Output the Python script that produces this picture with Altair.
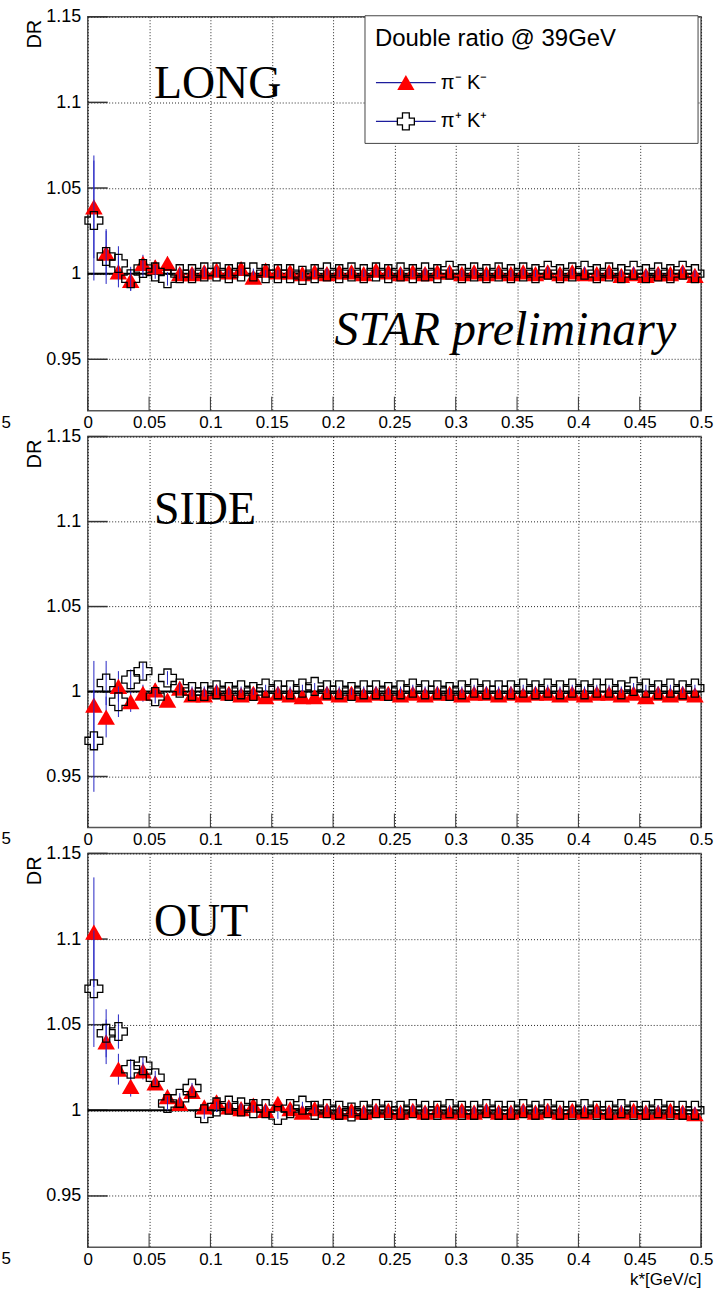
import altair as alt
import pandas as pd

# ---------------- data ----------------
kstar = [0.005, 0.015, 0.025, 0.035, 0.045, 0.055, 0.065, 0.075, 0.085, 0.095,
         0.105, 0.115, 0.125, 0.135, 0.145, 0.155, 0.165, 0.175, 0.185, 0.195,
         0.205, 0.215, 0.225, 0.235, 0.245, 0.255, 0.265, 0.275, 0.285, 0.295,
         0.305, 0.315, 0.325, 0.335, 0.345, 0.355, 0.365, 0.375, 0.385, 0.395,
         0.405, 0.415, 0.425, 0.435, 0.445, 0.455, 0.465, 0.475, 0.485, 0.495]

long_pim = [1.039, 1.012, 1.001, 0.996, 1.006, 1.004, 1.006, 1.000, 1.000, 1.001,
            1.002, 1.001, 1.003, 0.998, 1.002, 1.001, 1.001, 1.000, 1.001, 1.000,
            1.001, 1.001, 1.000, 1.002, 1.001, 1.000, 1.001, 1.000, 1.001, 1.001,
            1.000, 1.001, 1.000, 1.001, 1.000, 1.001, 1.000, 1.001, 1.000, 1.001,
            1.000, 1.000, 1.001, 0.999, 1.000, 0.999, 1.000, 1.000, 1.001, 0.999]
long_pim_err = [0.030, 0.013, 0.009, 0.006, 0.005, 0.004, 0.004, 0.003, 0.003, 0.003,
                0.003, 0.002, 0.002, 0.002, 0.002, 0.002, 0.002, 0.002, 0.002, 0.002,
                0.002, 0.002, 0.002, 0.002, 0.002, 0.002, 0.002, 0.002, 0.002, 0.002,
                0.002, 0.002, 0.002, 0.002, 0.002, 0.002, 0.002, 0.002, 0.002, 0.002,
                0.002, 0.002, 0.002, 0.002, 0.002, 0.002, 0.002, 0.002, 0.002, 0.002]
long_pip = [1.031, 1.010, 1.006, 0.997, 1.003, 1.001, 0.997, 1.000, 1.000, 1.001,
            1.001, 1.000, 1.001, 1.001, 1.000, 1.000, 1.000, 0.999, 1.000, 1.001,
            1.000, 1.001, 1.000, 1.001, 1.000, 1.001, 1.000, 1.001, 1.000, 1.002,
            1.000, 1.001, 1.000, 1.001, 1.000, 1.001, 1.000, 1.002, 1.000, 1.001,
            1.002, 1.000, 1.001, 1.000, 1.002, 1.000, 1.001, 1.000, 1.002, 1.000]
long_pip_err = [0.035, 0.016, 0.010, 0.007, 0.005, 0.004, 0.004, 0.003, 0.003, 0.003,
                0.003, 0.002, 0.002, 0.002, 0.002, 0.002, 0.002, 0.002, 0.002, 0.002,
                0.002, 0.002, 0.002, 0.002, 0.002, 0.002, 0.002, 0.002, 0.002, 0.002,
                0.002, 0.002, 0.002, 0.002, 0.002, 0.002, 0.002, 0.002, 0.002, 0.002,
                0.002, 0.002, 0.002, 0.002, 0.002, 0.002, 0.002, 0.002, 0.002, 0.002]

side_pim = [0.992, 0.985, 1.003, 0.994, 0.999, 1.001, 0.995, 1.002, 0.998, 0.998,
            1.000, 0.999, 0.998, 0.999, 0.997, 0.999, 0.998, 0.997, 0.997, 0.999,
            0.998, 0.999, 0.998, 0.999, 0.999, 0.998, 0.999, 0.998, 0.999, 0.999,
            0.998, 0.999, 0.999, 0.998, 0.999, 0.998, 0.999, 0.999, 0.998, 0.999,
            0.998, 0.999, 0.999, 0.998, 0.999, 0.997, 0.999, 0.998, 0.999, 0.998]
side_pim_err = [0.026, 0.012, 0.009, 0.006, 0.005, 0.004, 0.004, 0.003, 0.003, 0.003,
                0.003, 0.002, 0.002, 0.002, 0.002, 0.002, 0.002, 0.002, 0.002, 0.002,
                0.002, 0.002, 0.002, 0.002, 0.002, 0.002, 0.002, 0.002, 0.002, 0.002,
                0.002, 0.002, 0.002, 0.002, 0.002, 0.002, 0.002, 0.002, 0.002, 0.002,
                0.002, 0.002, 0.002, 0.002, 0.002, 0.002, 0.002, 0.002, 0.002, 0.002]
side_pip = [0.971, 1.005, 0.994, 1.007, 1.012, 0.997, 1.008, 1.002, 1.000, 1.000,
            1.001, 1.000, 1.001, 1.000, 1.002, 1.001, 1.001, 1.002, 1.003, 1.001,
            1.001, 1.000, 1.001, 1.001, 1.000, 1.001, 1.002, 1.001, 1.001, 1.000,
            1.001, 1.002, 1.001, 1.001, 1.001, 1.002, 1.001, 1.002, 1.001, 1.002,
            1.001, 1.002, 1.002, 1.001, 1.003, 1.002, 1.001, 1.002, 1.001, 1.002]
side_pip_err = [0.030, 0.013, 0.009, 0.006, 0.005, 0.004, 0.004, 0.003, 0.003, 0.003,
                0.003, 0.002, 0.002, 0.002, 0.002, 0.002, 0.002, 0.002, 0.002, 0.002,
                0.002, 0.002, 0.002, 0.002, 0.002, 0.002, 0.002, 0.002, 0.002, 0.002,
                0.002, 0.002, 0.002, 0.002, 0.002, 0.002, 0.002, 0.002, 0.002, 0.002,
                0.002, 0.002, 0.002, 0.002, 0.002, 0.002, 0.002, 0.002, 0.002, 0.002]

out_pim = [1.104, 1.040, 1.024, 1.014, 1.023, 1.016, 1.008, 1.004, 1.011, 1.002,
           1.005, 1.002, 1.001, 1.003, 1.000, 1.004, 1.001, 0.999, 1.001, 1.000,
           0.999, 1.000, 0.999, 1.000, 1.000, 0.999, 1.000, 0.999, 1.000, 0.999,
           1.000, 0.999, 1.000, 0.999, 0.999, 1.000, 0.999, 1.000, 0.999, 1.000,
           0.999, 1.000, 0.999, 0.999, 1.000, 0.999, 0.999, 1.000, 0.999, 0.998]
out_pim_err = [0.032, 0.013, 0.009, 0.006, 0.005, 0.004, 0.004, 0.003, 0.003, 0.003,
               0.003, 0.002, 0.002, 0.002, 0.002, 0.002, 0.002, 0.002, 0.002, 0.002,
               0.002, 0.002, 0.002, 0.002, 0.002, 0.002, 0.002, 0.002, 0.002, 0.002,
               0.002, 0.002, 0.002, 0.002, 0.002, 0.002, 0.002, 0.002, 0.002, 0.002,
               0.002, 0.002, 0.002, 0.002, 0.002, 0.002, 0.002, 0.002, 0.002, 0.002]
out_pip = [1.071, 1.045, 1.046, 1.024, 1.026, 1.019, 1.004, 1.007, 1.013, 0.998,
           1.002, 1.003, 1.002, 1.001, 1.001, 0.997, 1.001, 1.003, 1.000, 1.001,
           1.000, 0.999, 1.000, 1.001, 1.000, 1.000, 1.001, 1.000, 1.000, 1.001,
           1.000, 1.000, 1.001, 1.000, 1.000, 1.001, 1.000, 1.001, 1.000, 1.000,
           1.001, 1.000, 1.000, 1.001, 1.000, 1.000, 1.001, 1.000, 1.000, 1.000]
out_pip_err = [0.034, 0.014, 0.010, 0.006, 0.005, 0.004, 0.004, 0.003, 0.003, 0.003,
               0.003, 0.002, 0.002, 0.002, 0.002, 0.002, 0.002, 0.002, 0.002, 0.002,
               0.002, 0.002, 0.002, 0.002, 0.002, 0.002, 0.002, 0.002, 0.002, 0.002,
               0.002, 0.002, 0.002, 0.002, 0.002, 0.002, 0.002, 0.002, 0.002, 0.002,
               0.002, 0.002, 0.002, 0.002, 0.002, 0.002, 0.002, 0.002, 0.002, 0.002]

x_ticks = [0, 0.05, 0.1, 0.15, 0.2, 0.25, 0.3, 0.35, 0.4, 0.45, 0.5]
y_ticks = [0.95, 1.0, 1.05, 1.1, 1.15]
x_domain = [0, 0.5]
y_domain = [0.92, 1.15]

panel_names = ["LONG", "SIDE", "OUT"]
panel_label_x = [0.054, 0.054, 0.054]
panel_label_y = [1.1023, 1.0988, 1.1015]
panel_heights = [395, 392, 395]

legend_title = "Double ratio @ 39GeV"
legend_labels = ["π⁻ K⁻", "π⁺ K⁺"]
preliminary_text = "STAR preliminary"
preliminary_pos = (0.4797, 0.9585)
x_title = "k*[GeV/c]"
y_title = "DR"
edge_label = "5"   # clipped tick label of a neighbouring pad, visible at the left edge

W = 615
SANS = "Liberation Sans"
SERIF = "Liberation Serif"
BLUE = "#2626c4"


def make_panel(idx, pim, pim_err, pip, pip_err, height, with_xtitle, with_legend):
    xs = alt.Scale(domain=x_domain, nice=False, zero=False)
    ys = alt.Scale(domain=y_domain, nice=False, zero=False)
    xax = alt.Axis(values=x_ticks, format="~g", grid=True, gridDash=[1, 2],
                   gridColor="#000", gridWidth=1, gridOpacity=0.85,
                   ticks=False, tickSize=0, domain=False,
                   labelFont=SANS, labelFontSize=17, labelColor="#000",
                   labelPadding=4, labelFlush=False, labelOverlap=False, labelBound=False,
                   title=x_title if with_xtitle else None,
                   titleFont=SANS, titleFontSize=17, titleFontWeight="normal", titleColor="#000",
                   titleX=W, titleY=32, titleAlign="right", titleBaseline="middle", titleAnchor="end")
    yax = alt.Axis(values=y_ticks, format="~g", grid=True, gridDash=[1, 2],
                   gridColor="#000", gridWidth=1, gridOpacity=0.85,
                   ticks=False, tickSize=0, domain=False,
                   labelFont=SANS, labelFontSize=18, labelColor="#000",
                   labelPadding=7, labelFlush=False, labelOverlap=False, labelBound=False,
                   title=y_title, titleFont=SANS, titleFontSize=20, titleFontWeight="normal",
                   titleColor="#000", titleAngle=270, titleX=-53, titleY=17,
                   titleAlign="center", titleBaseline="middle")

    def X(f):
        return alt.X(f, type="quantitative", scale=xs, axis=xax)

    def Y(f):
        return alt.Y(f, type="quantitative", scale=ys, axis=yax)

    df_m = pd.DataFrame({"k": kstar, "dr": pim,
                         "lo": [v - e for v, e in zip(pim, pim_err)],
                         "hi": [v + e for v, e in zip(pim, pim_err)]})
    df_p = pd.DataFrame({"k": kstar, "dr": pip,
                         "lo": [v - e for v, e in zip(pip, pip_err)],
                         "hi": [v + e for v, e in zip(pip, pip_err)]})

    xt = alt.Chart(pd.DataFrame({"v": x_ticks})).mark_rule(color="#333", strokeWidth=1).encode(
        x=X("v"), y=alt.value(height), y2=alt.value(height - 14))
    yt = alt.Chart(pd.DataFrame({"v": y_ticks})).mark_rule(color="#333", strokeWidth=1.5).encode(
        y=Y("v"), x=alt.value(0), x2=alt.value(20))
    one = alt.Chart(pd.DataFrame({"v": [1.0]})).mark_rule(color="#000", strokeWidth=2).encode(y=Y("v"))

    err_m = alt.Chart(df_m).mark_rule(color=BLUE, strokeWidth=1).encode(x=X("k"), y=Y("lo"), y2="hi:Q")
    err_p = alt.Chart(df_p).mark_rule(color=BLUE, strokeWidth=1).encode(x=X("k"), y=Y("lo"), y2="hi:Q")
    tri = alt.Chart(df_m).mark_point(shape="triangle-up", filled=True, color="#ff0000",
                                     size=310, opacity=1).encode(x=X("k"), y=Y("dr"))
    crs = alt.Chart(df_p).mark_point(shape="cross", filled=False, color="#000", strokeWidth=1.3,
                                     size=320, opacity=1).encode(x=X("k"), y=Y("dr"))

    lab = alt.Chart(pd.DataFrame({"x": [panel_label_x[idx]], "y": [panel_label_y[idx]],
                                  "t": [panel_names[idx]]})).mark_text(
        font=SERIF, fontSize=46, align="left", baseline="alphabetic", color="#000").encode(
        x=X("x"), y=Y("y"), text="t:N")

    one_row = pd.DataFrame({"a": [0]})
    edge = alt.Chart(one_row).mark_text(text=edge_label, font=SANS, fontSize=17, align="right",
                                        baseline="top", color="#000").encode(
        x=alt.value(-77), y=alt.value(height + 4))

    layers = [yt, xt, one, err_m, tri, err_p, crs, lab, edge]

    if with_legend:
        box = alt.Chart(one_row).mark_rect(fill="white", stroke="#444", strokeWidth=1).encode(
            x=alt.value(278), x2=alt.value(612), y=alt.value(-1), y2=alt.value(127))
        ttl = alt.Chart(one_row).mark_text(text=legend_title, font=SANS, fontSize=24,
                                           align="left", baseline="alphabetic", color="#000").encode(
            x=alt.value(288), y=alt.value(29))
        l1 = alt.Chart(one_row).mark_rule(color="#1c1c9c", strokeWidth=1.2).encode(
            x=alt.value(289), x2=alt.value(349), y=alt.value(66))
        l2 = alt.Chart(one_row).mark_rule(color="#1c1c9c", strokeWidth=1.2).encode(
            x=alt.value(289), x2=alt.value(349), y=alt.value(105))
        m1 = alt.Chart(one_row).mark_point(shape="triangle-up", filled=True, color="#ff0000",
                                           size=300, opacity=1).encode(x=alt.value(319), y=alt.value(66))
        m2 = alt.Chart(one_row).mark_point(shape="cross", filled=True, fill="white", stroke="#000",
                                           strokeWidth=1.3, size=290, opacity=1).encode(
            x=alt.value(319), y=alt.value(105))
        t1 = alt.Chart(one_row).mark_text(text=legend_labels[0], font=SANS, fontSize=20,
                                          align="left", baseline="middle", color="#000").encode(
            x=alt.value(354), y=alt.value(66))
        t2 = alt.Chart(one_row).mark_text(text=legend_labels[1], font=SANS, fontSize=20,
                                          align="left", baseline="middle", color="#000").encode(
            x=alt.value(354), y=alt.value(105))
        star = alt.Chart(pd.DataFrame({"x": [preliminary_pos[0]], "y": [preliminary_pos[1]],
                                       "t": [preliminary_text]})).mark_text(
            font=SERIF, fontSize=48, fontStyle="italic", align="right", baseline="alphabetic",
            color="#000").encode(x=X("x"), y=Y("y"), text="t:N")
        layers += [box, ttl, l1, l2, m1, m2, t1, t2, star]

    return alt.layer(*layers).properties(width=W, height=height)


p1 = make_panel(0, long_pim, long_pim_err, long_pip, long_pip_err, panel_heights[0], False, True)
p2 = make_panel(1, side_pim, side_pim_err, side_pip, side_pip_err, panel_heights[1], False, False)
p3 = make_panel(2, out_pim, out_pim_err, out_pip, out_pip_err, panel_heights[2], True, False)

chart = alt.vconcat(p1, p2, p3, spacing=26, bounds="flush").properties(
    padding={"left": 0, "top": 5, "right": 5, "bottom": 5},
    background="white",
).configure_view(stroke="#555", strokeWidth=1.5)

chart.save("out.html", embed_options={"renderer": "svg", "actions": False})
